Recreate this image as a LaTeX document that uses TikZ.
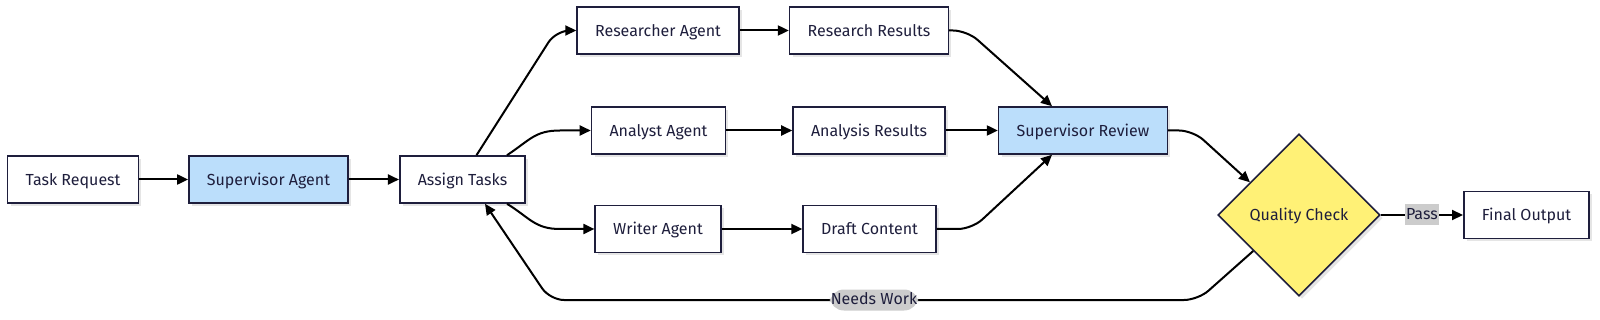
\documentclass[tikz,border=0pt]{standalone}
\usepackage{fontspec}
\setmainfont{Fira Sans}
\usetikzlibrary{arrows.meta,shapes.geometric,shadows,calc}
\definecolor{inkc}{HTML}{1E1E3C}
\definecolor{bluefill}{HTML}{BBDEFB}
\definecolor{yellowfill}{HTML}{FFF176}
\definecolor{lblgrey}{HTML}{CCCCCC}
\tikzset{
  shade box/.style={drop shadow={shadow xshift=3pt,shadow yshift=-3pt,fill=black!10,opacity=1}},
  box/.style={draw=inkc, line width=1.6pt, fill=white, text=inkc, inner xsep=18pt,
    minimum height=47pt, text height=14pt, text depth=2pt,
    font=\fontsize{16}{18}\selectfont, shade box},
  supbox/.style={box, fill=bluefill},
  decision/.style={diamond, draw=inkc, line width=1.6pt, fill=yellowfill, text=inkc,
    minimum width=162pt, minimum height=162pt, inner sep=0pt,
    text height=14pt, text depth=2pt, font=\fontsize{16}{18}\selectfont, shade box},
  flow/.style={draw=black, line width=2pt, -{Triangle[length=11pt,width=10pt]}},
  lbl/.style={fill=lblgrey, text=inkc, inner xsep=1pt, inner ysep=2.5pt, text height=13pt, text depth=3pt,
    font=\fontsize{16}{18}\selectfont}
}
\begin{document}
\begin{tikzpicture}[x=1pt, y=-1pt]
  \useasboundingbox (0,0) rectangle (1600,320);
  \node[box] (task) at (73,179.5) {Task Request};
  \node[supbox] (supagent) at (268.5,179.5) {Supervisor Agent};
  \node[box] (assign) at (462.5,179.5) {Assign Tasks};
  \node[box] (researcher) at (658,30.5) {Researcher Agent};
  \node[box] (resresults) at (869,30.5) {Research Results};
  \node[box] (analyst) at (658.5,130.5) {Analyst Agent};
  \node[box] (anresults) at (869,130.5) {Analysis Results};
  \node[box] (writer) at (658,229) {Writer Agent};
  \node[box] (draft) at (869.5,229) {Draft Content};
  \node[supbox] (review) at (1083,130.5) {Supervisor Review};
  \node[decision] (quality) at (1299,215) {Quality Check};
  \node[box] (final) at (1526.5,215) {Final Output};
  \draw[flow] (task) -- (supagent);
  \draw[flow] (supagent) -- (assign);
  \draw[flow, rounded corners=14pt] ([xshift=14pt]assign.north) -- (556,30.5) -- (researcher.west);
  \draw[flow] ([xshift=-19pt]assign.north east) .. controls (530,140) and (535,130.5) .. (560,130.5) -- (analyst.west);
  \draw[flow] ([xshift=-19pt]assign.south east) .. controls (530,218) and (535,229) .. (560,229) -- (writer.west);
  \draw[flow] (researcher) -- (resresults);
  \draw[flow] (analyst) -- (anresults);
  \draw[flow] (writer) -- (draft);
  \draw[flow, rounded corners=14pt] (resresults.east) -- (967,30.5) -- ([xshift=-31pt]review.north);
  \draw[flow] (anresults) -- (review);
  \draw[flow, rounded corners=14pt] (draft.east) -- (972,229) -- ([xshift=-31pt]review.south);
  \draw[flow, rounded corners=14pt] (review.east) -- (1193,130.5) -- ($(quality.west)!0.4!(quality.north)$);
  \draw[flow] (quality) -- node[lbl] {Pass} (final);
  \draw[flow, rounded corners=14pt] ($(quality.west)!0.44!(quality.south)$) -- (1198,300)
    -- node[lbl] {Needs Work} (550,300) -- ([xshift=22.5pt]assign.south);
\end{tikzpicture}
\end{document}
